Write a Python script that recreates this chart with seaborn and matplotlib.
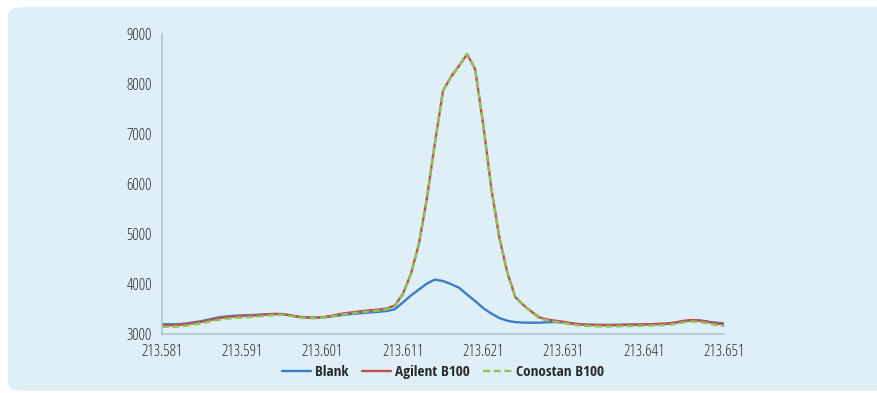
import numpy as np
import pandas as pd
import matplotlib
matplotlib.use("Agg")
import matplotlib.pyplot as plt
import seaborn as sns
from matplotlib.patches import FancyBboxPatch

# wavelength (nm), one reading every 0.001 nm
wavelength = np.round(np.arange(213.581, 213.6515, 0.001), 3)

blank = [
    3195, 3195, 3195, 3210, 3235, 3260, 3295, 3330, 3350, 3365,
    3373, 3378, 3385, 3395, 3400, 3398, 3370, 3345, 3330, 3325,
    3330, 3348, 3370, 3390, 3405, 3420, 3433, 3445, 3460, 3495,
    3630, 3770, 3890, 4010, 4090, 4060, 4000, 3925, 3790, 3660,
    3520, 3410, 3320, 3265, 3238, 3228, 3225, 3227, 3235, 3240,
    3230, 3210, 3195, 3188, 3185, 3183, 3183, 3185, 3188, 3190,
    3193, 3197, 3200, 3205, 3225, 3255, 3275, 3270, 3245, 3225,
    3213,
]

agilent = [
    3175, 3175, 3180, 3195, 3220, 3245, 3280, 3310, 3335, 3350,
    3360, 3365, 3375, 3390, 3400, 3400, 3375, 3345, 3330, 3325,
    3335, 3360, 3395, 3420, 3440, 3460, 3475, 3490, 3510, 3570,
    3800, 4200, 4800, 5720, 6830, 7870, 8150, 8370, 8600, 8300,
    7200, 5930, 4940, 4230, 3740, 3580, 3450, 3330, 3290, 3265,
    3245, 3215, 3195, 3183, 3178, 3175, 3175, 3178, 3182, 3187,
    3192, 3197, 3203, 3210, 3235, 3265, 3280, 3270, 3240, 3210,
    3193,
]

conostan = [
    3145, 3145, 3150, 3165, 3190, 3215, 3250, 3280, 3305, 3320,
    3330, 3340, 3350, 3365, 3380, 3385, 3360, 3335, 3320, 3315,
    3325, 3345, 3375, 3400, 3420, 3440, 3455, 3470, 3495, 3555,
    3790, 4190, 4800, 5720, 6830, 7870, 8150, 8370, 8610, 8310,
    7200, 5930, 4940, 4230, 3730, 3570, 3440, 3315, 3270, 3245,
    3220, 3190, 3170, 3160, 3155, 3152, 3152, 3155, 3158, 3162,
    3166, 3170, 3175, 3182, 3205, 3235, 3250, 3240, 3210, 3180,
    3162,
]

series = ["Blank", "Agilent B100", "Conostan B100"]
colors = {"Blank": "#3c7ec6", "Agilent B100": "#c0504d", "Conostan B100": "#8fc45a"}
x_ticks = [213.581, 213.591, 213.601, 213.611, 213.621, 213.631, 213.641, 213.651]
y_ticks = [3000, 4000, 5000, 6000, 7000, 8000, 9000]

df = pd.DataFrame({
    "wavelength": np.tile(wavelength, 3),
    "intensity": blank + agilent + conostan,
    "sample": np.repeat(series, len(wavelength)),
})

sns.set_style("white")
plt.rcParams["font.family"] = ["Open Sans", "DejaVu Sans"]
plt.rcParams["font.stretch"] = "condensed"

fig = plt.figure(figsize=(8.78, 3.93), dpi=100)
fig.patch.set_facecolor("white")
bg = FancyBboxPatch((8 / 878, 2 / 393), 1.2, 384 / 393,
                    boxstyle="round,pad=0,rounding_size=0.02",
                    transform=fig.transFigure, facecolor="#dfeff8",
                    edgecolor="none", zorder=-10)
fig.patches.append(bg)

ax = fig.add_axes([161.7 / 878, 1 - 334 / 393, (724.3 - 161.7) / 878, (334 - 34.3) / 393])
ax.set_facecolor("none")

sns.lineplot(data=df, x="wavelength", y="intensity", hue="sample", style="sample",
             hue_order=series, style_order=series, palette=colors,
             dashes={"Blank": "", "Agilent B100": "", "Conostan B100": (3, 1.5)},
             linewidth=1.7, ax=ax, legend=False)
for ln in ax.get_lines():
    ln.set_solid_joinstyle("round")

ax.set_xlim(213.581, 213.651)
ax.set_ylim(3000, 9000)
ax.set_xticks(x_ticks)
ax.set_xticklabels([f"{t:.3f}" for t in x_ticks])
ax.set_yticks(y_ticks)
ax.set_xlabel("")
ax.set_ylabel("")

for side in ["top", "right"]:
    ax.spines[side].set_visible(False)
for side in ["left", "bottom"]:
    ax.spines[side].set_color("#b4c3cc")
    ax.spines[side].set_linewidth(1.2)
ax.tick_params(axis="both", direction="out", length=4, width=1, color="#b4c3cc",
               labelsize=11.5, labelcolor="#2b2b2b", pad=3)
for lab in ax.get_xticklabels() + ax.get_yticklabels():
    lab.set_fontweight(300)
    lab.set_fontstretch("condensed")

handles = [plt.Line2D([], [], color=colors[s], lw=1.7,
                      linestyle=(0, (3, 1.5)) if s == "Conostan B100" else "-")
           for s in series]
leg = fig.legend(handles, series, loc="center", bbox_to_anchor=(443 / 878, 1 - 372 / 393),
                 ncol=3, frameon=False, handlelength=1.9, handletextpad=0.25,
                 columnspacing=0.9,
                 prop={"family": "Open Sans Condensed", "weight": "bold", "size": 11})
for t in leg.get_texts():
    t.set_color("#2a2a2a")

fig.savefig("out.png", dpi=100)
